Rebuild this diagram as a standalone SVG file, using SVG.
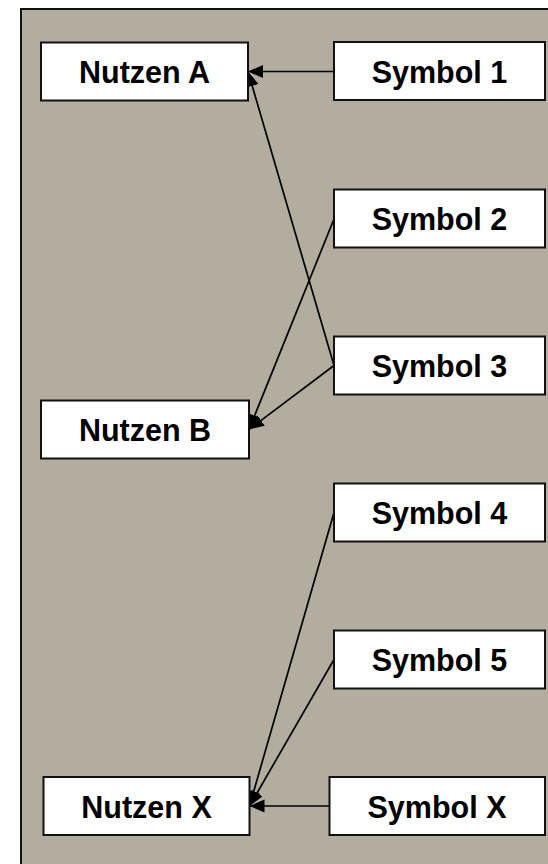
<svg xmlns="http://www.w3.org/2000/svg" width="548" height="864" viewBox="0 0 548 864">
  <style>
    .frame { fill: #b2ad9e; stroke: #111; stroke-width: 2; }
    .box { fill: #fff; stroke: #111; stroke-width: 2; }
    .label { font-family: "Liberation Sans", Arial, sans-serif; font-weight: bold; font-size: 30.5px; fill: #000; text-anchor: middle; }
    .edge { stroke: #000; stroke-width: 1.7; fill: none; marker-end: url(#arrow); }
  </style>
  <defs>
    <marker id="arrow" markerUnits="userSpaceOnUse" markerWidth="16" markerHeight="14" refX="15" refY="6.5" orient="auto">
      <path d="M0,0 L15,6.5 L0,13 z" fill="#000"/>
    </marker>
  </defs>

  <rect width="548" height="864" fill="#fff"/>
  <rect class="frame" x="21" y="9" width="540" height="870"/>

  <g id="connectors">
    <line class="edge" x1="334" y1="71.5" x2="248" y2="71.5"/>
    <line class="edge" x1="334" y1="365.5" x2="248" y2="71.5"/>
    <line class="edge" x1="334" y1="219" x2="249" y2="429.5"/>
    <line class="edge" x1="334" y1="365.5" x2="249" y2="429.5"/>
    <line class="edge" x1="334" y1="512.5" x2="249.5" y2="806"/>
    <line class="edge" x1="334" y1="659.5" x2="249.5" y2="806"/>
    <line class="edge" x1="329.5" y1="806" x2="249.5" y2="806"/>
  </g>

  <g id="nutzen-a">
    <rect class="box" x="41" y="42.5" width="207" height="58"/>
    <text class="label" x="144.5" y="83">Nutzen A</text>
  </g>
  <g id="nutzen-b">
    <rect class="box" x="41" y="400.5" width="208" height="58"/>
    <text class="label" x="145" y="441">Nutzen B</text>
  </g>
  <g id="nutzen-x">
    <rect class="box" x="43.5" y="777" width="206" height="58"/>
    <text class="label" x="146.5" y="817.5">Nutzen X</text>
  </g>

  <g id="symbol-1">
    <rect class="box" x="334" y="42" width="211" height="58"/>
    <text class="label" x="439.5" y="82.5">Symbol 1</text>
  </g>
  <g id="symbol-2">
    <rect class="box" x="334" y="189.5" width="211" height="58"/>
    <text class="label" x="439.5" y="230">Symbol 2</text>
  </g>
  <g id="symbol-3">
    <rect class="box" x="334" y="336.5" width="211" height="58"/>
    <text class="label" x="439.5" y="377">Symbol 3</text>
  </g>
  <g id="symbol-4">
    <rect class="box" x="334" y="483.5" width="211" height="58"/>
    <text class="label" x="439.5" y="524">Symbol 4</text>
  </g>
  <g id="symbol-5">
    <rect class="box" x="334" y="630.5" width="211" height="58"/>
    <text class="label" x="439.5" y="671">Symbol 5</text>
  </g>
  <g id="symbol-x">
    <rect class="box" x="329.5" y="777" width="215.5" height="58"/>
    <text class="label" x="437" y="817.5">Symbol X</text>
  </g>
</svg>
